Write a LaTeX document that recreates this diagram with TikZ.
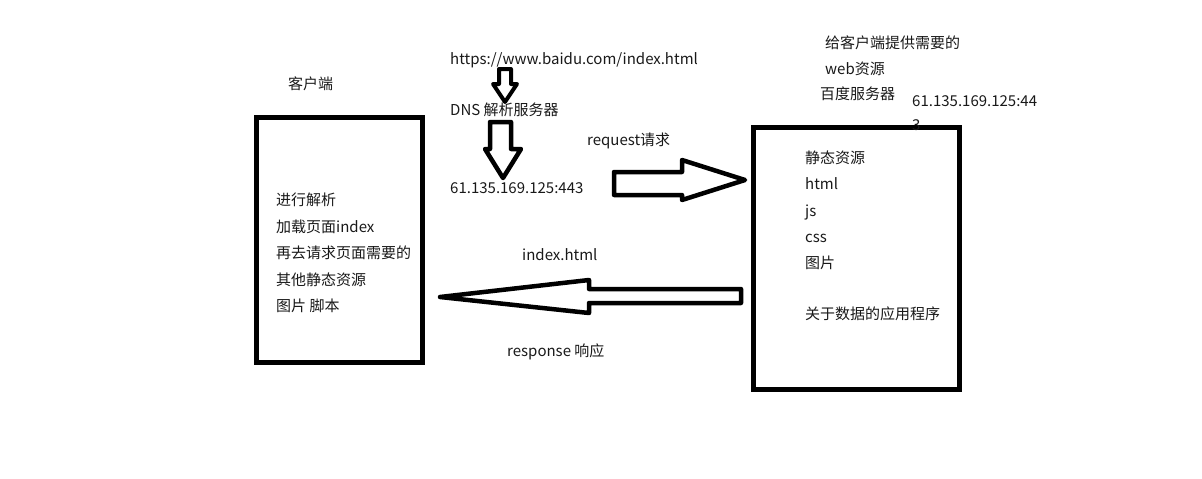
\documentclass[tikz,border=0pt]{standalone}
\usepackage{fontspec}
\setmainfont{Noto Sans CJK SC}
\begin{document}
\begin{tikzpicture}[x=1pt,y=-1pt,
  txt/.style={anchor=base west,inner sep=0pt,font=\fontsize{15}{15}\selectfont,text=black!90},
  box/.style={draw=black,line width=5pt,outer sep=0pt,inner sep=0pt,anchor=north west},
  blk/.style={draw=black,line width=4.5pt,line join=round,fill=white}]
\useasboundingbox (0,0) rectangle (1202,479);
% boxes
\node[box,minimum width=166pt,minimum height=245pt] (client) at (256.5,117.5) {};
\node[box,minimum width=206pt,minimum height=262pt] (server) at (753.5,127.5) {};
% arrows
\draw[blk,line width=4pt] (499,69) -- (511,69) -- (511,84) -- (517,84) -- (505,102) -- (493,84) -- (499,84) -- cycle;
\draw[blk] (490,122) -- (511,122) -- (511,149) -- (521,149) -- (503,178) -- (485,149) -- (490,149) -- cycle;
\draw[blk] (614,172) -- (682,172) -- (682,160) -- (745,180) -- (682,200) -- (682,195) -- (614,195) -- cycle;
\draw[blk] (741,289) -- (589,289) -- (589,280) -- (440,297) -- (589,313) -- (589,303) -- (741,303) -- cycle;
% texts
\node[txt] (client label) at (288,89.5) {客户端};
\node[txt] (c1) at (276,205.5) {进行解析};
\node[txt] (c2) at (276,232.5) {加载页面index};
\node[txt] (c3) at (276,258.5) {再去请求页面需要的};
\node[txt] (c4) at (276,285.5) {其他静态资源};
\node[txt] (c5) at (276,311.5) {图片 脚本};
\node[txt] (url) at (450,64.5) {https://www.baidu.com/index.html};
\node[txt] (dns) at (450,115.5) {DNS 解析服务器};
\node[txt] (ip) at (450,193.5) {61.135.169.125:443};
\node[txt] (req) at (587,145.5) {request请求};
\node[txt] (idx) at (522,260.5) {index.html};
\node[txt] (resp) at (507,356.5) {response 响应};
\node[txt] (s0) at (825,48.5) {给客户端提供需要的};
\node[txt] (s01) at (825,74.5) {web资源};
\node[txt] (s02) at (820,99.5) {百度服务器};
\node[txt] (sip) at (912,106.5) {61.135.169.125:44};
\node[txt] (sip2) at (912,130.5) {3};
\node[txt] (s1) at (805,163.5) {静态资源};
\node[txt] (s2) at (805,189.5) {html};
\node[txt] (s3) at (805,216.5) {js};
\node[txt] (s4) at (805,242.5) {css};
\node[txt] (s5) at (805,268.5) {图片};
\node[txt] (s6) at (805,319.5) {关于数据的应用程序};
\end{tikzpicture}
\end{document}
